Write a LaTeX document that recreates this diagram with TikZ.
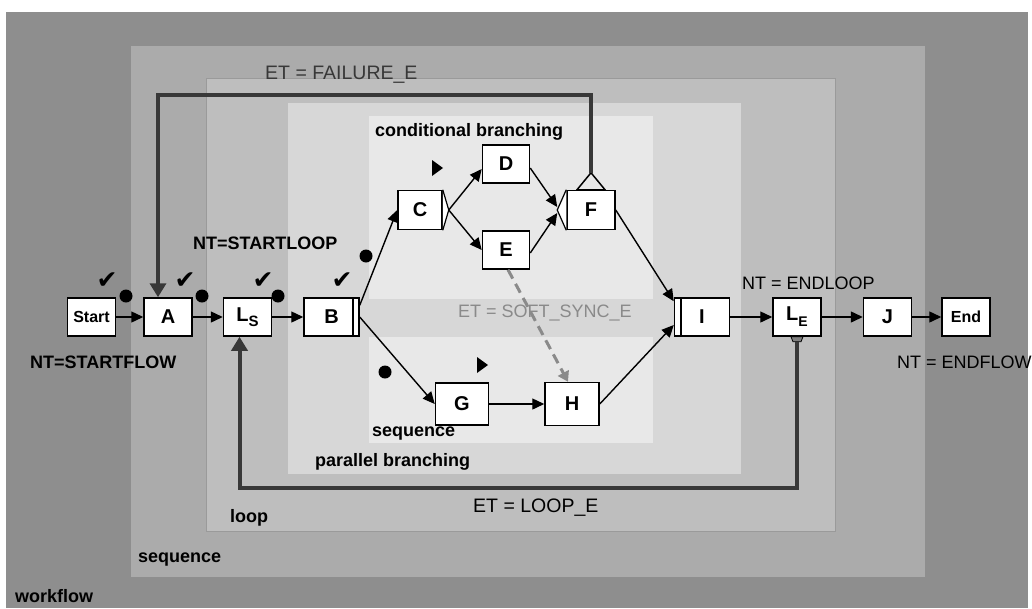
\documentclass[tikz,border=0pt]{standalone}
\usepackage{fontspec}
\setmainfont{Liberation Sans}
\newfontfamily\symbolfont{DejaVu Sans}
\usetikzlibrary{arrows.meta,positioning,calc}
\definecolor{wfgray}{HTML}{8E8E8E}
\definecolor{seqgray}{HTML}{ABABAB}
\definecolor{loopgray}{HTML}{BEBEBE}
\definecolor{loopline}{HTML}{9A9A9A}
\definecolor{pargray}{HTML}{D7D7D7}
\definecolor{condgray}{HTML}{E8E8E8}
\definecolor{ctrlgray}{HTML}{383838}
\definecolor{syncgray}{HTML}{8A8A8A}
\tikzset {
    task/.style={draw, line width=1.5pt, fill=white, minimum width=48pt,
        minimum height=38pt, inner sep=0pt,
        font=\fontsize{20}{22}\selectfont\bfseries},
    region/.style={inner sep=0pt, anchor=west,
        font=\fontsize{18}{20}\selectfont\bfseries},
    tag/.style={inner sep=0pt, anchor=west,
        font=\fontsize{18}{20}\selectfont},
    etag/.style={tag, font=\fontsize{19.5}{21}\selectfont},
    token/.style={circle, fill=black, minimum size=13pt, inner sep=0pt},
    done/.style={inner sep=0pt, font=\symbolfont\fontsize{25}{25}\selectfont},
    flow/.style={line width=1.4pt, -{Triangle[width=11pt,length=12pt]}},
    ctrl/.style={line width=4pt, draw=ctrlgray,
        -{Triangle[width=16pt,length=14pt]}},
    sync/.style={line width=3pt, draw=syncgray, dash pattern=on 10pt off 6pt,
        -{Triangle[width=12pt,length=10pt]}},
}

\begin{document}
\begin{tikzpicture}[x=1pt, y=-1pt]

        \fill[white] (0,0) rectangle (1032,608);
        \useasboundingbox (0,0) rectangle (1032,608);

        \fill[wfgray] (6,12) rectangle (1028,608);
        \fill[seqgray] (131,46) rectangle (925,577);
        \filldraw[fill=loopgray, draw=loopline, line width=1pt] (206,78) rectangle (835,531);
        \fill[pargray] (288,103) rectangle (741,474);
        \fill[condgray] (369,116) rectangle (653,299);
        \fill[condgray] (369,337) rectangle (653,443);

        \node[region] (wfLbl) at (15,596) {workflow};
        \node[region] (seqOutLbl) at (138,560) {sequence};
        \node[region] (loopLbl) at (230,518) {loop};
        \node[region] (parLbl) at (315,462) {parallel branching};
        \node[region] (seqInLbl) at (372,434) {sequence};
        \node[region] (condLbl) at (375,132) {conditional branching};

        \node[task] (A) at (168,317) {A};
        \node[task, left=27pt of A, font=\fontsize{16}{18}\selectfont\bfseries] (start) {Start};
        \node[task, right=30pt of A] (ls) {L\raisebox{-5pt}{\fontsize{15}{15}\selectfont S}};
        \node[task, right=31pt of ls, minimum width=55pt, text width=44pt, align=center] (B) {B};

        \node[task, minimum width=44pt, minimum height=39pt] (C) at (420,210) {C};
        \node[task, minimum width=47pt] (D) at (506,164) {D};
        \node[task, minimum width=47pt] (E) at (506,250) {E};
        \node[task, minimum height=39pt] (F) at (591,210) {F};
        \node[task, minimum width=53pt, minimum height=42pt] (G) at (462,404) {G};
        \node[task, minimum width=54pt, minimum height=43pt] (H) at (572,404) {H};

        \node[task, minimum width=55pt, text width=34pt, align=center] (I) at (702,317) {I};
        \node[task, right=42pt of I] (le) {L\raisebox{-6pt}{\fontsize{14}{14}\selectfont E}};
        \node[task, right=41pt of le] (J) {J};
        \node[task, right=29pt of J, font=\fontsize{16}{18}\selectfont\bfseries] (end) {End};

        \coordinate (ctip) at ([xshift=6pt]C.east);
        \coordinate (fnotch) at ([xshift=-9pt]F.west);
        \coordinate (fapex) at ([yshift=17pt]F.north);

        \draw[line width=1.5pt] ([xshift=-7pt]B.north east) -- ([xshift=-7pt]B.south east);
        \draw[line width=1.5pt] ([xshift=7pt]I.north west) -- ([xshift=7pt]I.south west);
        \filldraw[fill=white, line width=1.2pt] (C.north east) -- (ctip) -- (C.south east);
        \filldraw[fill=white, line width=1.2pt] (F.north west) -- (fnotch) -- (F.south west);
        \filldraw[fill=condgray, line width=1.5pt] ([xshift=-14pt]F.north) -- (fapex) -- ([xshift=14pt]F.north) -- cycle;
        \filldraw[fill=gray, line width=0.8pt] ([xshift=-6pt]le.south) -- ([xshift=6pt]le.south)
            -- ([xshift=4pt, yshift=-5pt]le.south) -- ([xshift=-4pt, yshift=-5pt]le.south) -- cycle;

        \draw[flow] (start) -- (A);
        \draw[flow] (A) -- (ls);
        \draw[flow] (ls) -- (B);
        \draw[flow] ([yshift=-8pt]B.north east) -- (C.west);
        \draw[flow] (B.east) -- (G.west);
        \draw[flow] (ctip) -- ([yshift=-5pt]D.west);
        \draw[flow] (ctip) -- (E.west);
        \draw[flow] ([yshift=-4pt]D.east) -- ([yshift=3pt]fnotch);
        \draw[flow] ([yshift=-3pt]E.east) -- ([yshift=-3pt]fnotch);
        \draw[flow] (F.east) -- ([yshift=-4pt]I.north west);
        \draw[flow] (G) -- (H);
        \draw[flow] (H.east) -- ([yshift=-8pt]I.west);
        \draw[flow] (I) -- (le);
        \draw[flow] (le) -- (J);
        \draw[flow] (J) -- (end);

        \draw[sync] ([xshift=2pt]E.south) -- ([xshift=-4pt]H.north);
        \draw[ctrl] (fapex) -- ++(0,-78) -| ([xshift=-10pt]A.north);
        \draw[ctrl] ([yshift=-5pt]le.south) -- ++(0,146) -| ([xshift=-8pt]ls.south);

        \node[etag, text=ctrlgray] (failLbl) at (265,75) {ET = FAILURE\_E};
        \node[tag, font=\fontsize{18}{20}\selectfont\bfseries] (startLoopLbl) at (193,243) {NT=STARTLOOP};
        \node[tag] (endLoopLbl) at (742,283) {NT = ENDLOOP};
        \node[tag, font=\fontsize{18}{20}\selectfont\bfseries] (startFlowLbl) at (30,362) {NT=STARTFLOW};
        \node[tag] (endFlowLbl) at (897,362) {NT = ENDFLOW};
        \node[tag, text=syncgray] (syncLbl) at (458,313) {ET = SOFT\_SYNC\_E};
        \node[etag] (loopEdgeLbl) at (473,508) {ET = LOOP\_E};

        \node[done] (chk1) at (107,281) {✔};
        \node[done] (chk2) at (185,281) {✔};
        \node[done] (chk3) at (263,281) {✔};
        \node[done] (chk4) at (342,281) {✔};

        \node[token] (tok1) at (126,296) {};
        \node[token] (tok2) at (202,296) {};
        \node[token] (tok3) at (278,296) {};
        \node[token] (tok4) at (366,256) {};
        \node[token] (tok5) at (385,372) {};

        \fill (432,160) -- (443,168) -- (432,176) -- cycle;
        \fill (477,357) -- (488,365) -- (477,373) -- cycle;

    \end{tikzpicture}
\end{document}
